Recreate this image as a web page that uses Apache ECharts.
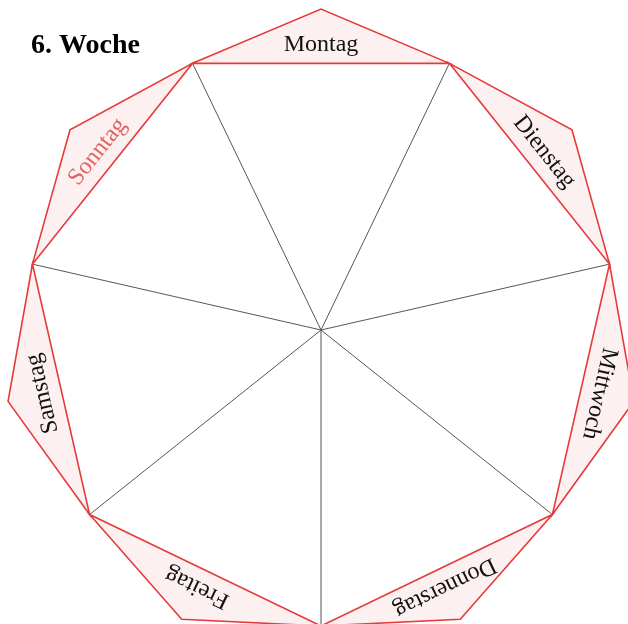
<!DOCTYPE html>
<html>
<head>
<meta charset="utf-8">
<title>6. Woche</title>
<script src="https://cdn.jsdelivr.net/npm/echarts@6/dist/echarts.min.js"></script>
<style>
  html, body { margin: 0; padding: 0; background: #fff; }
  #main { width: 628px; height: 624px; }
</style>
</head>
<body>
<div id="main"></div>
<script>
// days, clockwise from the top
var days = ['Montag', 'Dienstag', 'Mittwoch', 'Donnerstag', 'Freitag', 'Samstag', 'Sonntag'];
var dayColors = ['#111', '#111', '#111', '#111', '#111', '#111', '#e06464'];

var chart = echarts.init(document.getElementById('main'));

var step = 360 / days.length;
var rIn = 0.922, rLabel = 0.89, rOut = 1;

function renderTab(params, api) {
  var i = api.value(0);
  var a = i * step;
  var p1 = api.coord([rIn, a - step / 2]);
  var p2 = api.coord([rOut, a]);
  var p3 = api.coord([rIn, a + step / 2]);
  var c = api.coord([0, 0]);
  var t = api.coord([rLabel, a]);
  return {
    type: 'group',
    children: [{
      type: 'line',
      shape: { x1: c[0], y1: c[1], x2: p1[0], y2: p1[1] },
      style: { stroke: '#555', lineWidth: 1 },
      z2: 1
    }, {
      type: 'polygon',
      shape: { points: [p1, p2, p3] },
      style: { fill: '#fdf0f1', stroke: '#e63a3a', lineWidth: 1.6, lineJoin: 'miter' },
      z2: 2
    }, {
      type: 'text',
      x: t[0],
      y: t[1],
      rotation: -a * Math.PI / 180,
      style: {
        text: days[i],
        fill: dayColors[i],
        font: '24px "Liberation Serif", "Times New Roman", serif',
        align: 'center',
        verticalAlign: 'middle'
      },
      z2: 3
    }]
  };
}

var option = {
  animation: false,
  title: {
    text: '6. Woche',
    left: 26,
    top: 27,
    textStyle: {
      fontFamily: 'Liberation Serif',
      fontWeight: 'bold',
      fontSize: 28,
      color: '#000'
    }
  },
  polar: {
    center: [321, 330],
    radius: 321
  },
  angleAxis: {
    type: 'value',
    min: 0,
    max: 360,
    startAngle: 90,
    clockwise: true,
    show: false
  },
  radiusAxis: {
    type: 'value',
    min: 0,
    max: 1,
    show: false
  },
  series: [{
    type: 'custom',
    coordinateSystem: 'polar',
    renderItem: renderTab,
    data: days.map(function (d, i) { return { name: d, value: [i] }; })
  }]
};

chart.setOption(option);
</script>
</body>
</html>
